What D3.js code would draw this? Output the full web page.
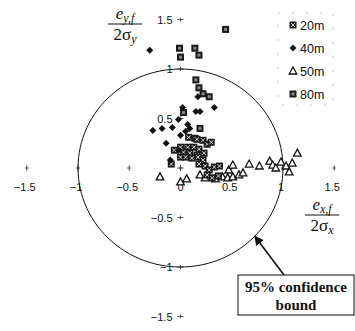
<!DOCTYPE html>
<html>
<head>
<meta charset="utf-8">
<script src="https://cdn.jsdelivr.net/npm/d3@7"></script>
<style>
  body { margin: 0; background: #fff; }
  svg { display: block; }
  .tick-label { font-family: "Liberation Sans", Arial, sans-serif; font-size: 11px; fill: #111; }
  .legend-text { font-family: "Liberation Sans", Arial, sans-serif; font-size: 12.5px; fill: #111; }
  .math { font-family: "Liberation Serif", "DejaVu Serif", serif; font-style: italic; fill: #111; }
  .note { font-family: "Liberation Serif", serif; font-weight: bold; font-size: 15px; fill: #111; }
</style>
</head>
<body>
<div id="chart"></div>
<script>
// tick values and labels
const xTicks = [-1.5, -1, -0.5, 0, 0.5, 1, 1.5];
const yTicks = [-1.5, -1, -0.5, 0, 0.5, 1, 1.5];
const fmt = v => (v < 0 ? '\u2212' : '') + Math.abs(v);

const seriesNames = ['20m', '40m', '50m', '80m'];

// normalised errors [x, y]
const pts20m = [
  [0.08, 0.31], [0.16, 0.29], [0.22, 0.28], [0.07, 0.21], [0.13, 0.21], [0.18, 0.19],
  [-0.06, 0.18], [0.03, 0.16], [0.09, 0.15], [0.16, 0.13], [0.23, 0.15], [0.00, 0.11],
  [0.05, 0.11], [0.11, 0.10], [0.17, 0.11], [0.22, 0.08], [0.18, 0.04], [0.24, 0.02],
  [0.28, -0.02], [0.33, 0.01], [0.38, 0.02], [0.26, -0.07], [0.31, -0.10], [0.37, -0.08],
  [-0.09, 0.04], [0.00, 0.21], [0.26, 0.24], [0.30, 0.26]
];
const pts40m = [
  [-0.30, 1.19], [-0.27, 0.38], [-0.18, 0.40], [-0.08, 0.41], [-0.02, 0.49], [0.02, 0.61],
  [0.33, 0.61], [-0.14, 0.25], [0.05, 0.37], [0.09, 0.40], [0.00, 0.33], [-0.10, 0.08],
  [0.15, 0.57], [0.19, 0.57], [0.17, 0.72], [-0.02, 0.18], [0.07, 0.44]
];
const pts50m = [
  [-0.20, -0.09], [0.00, -0.14], [0.06, -0.11], [0.19, -0.07], [0.24, -0.10], [0.34, -0.11],
  [0.41, -0.09], [0.46, -0.10], [0.47, -0.02], [0.51, 0.03], [0.51, -0.09], [0.57, -0.07],
  [0.61, -0.05], [0.67, 0.04], [0.77, 0.02], [0.87, 0.07], [0.90, 0.03], [0.93, 0.00],
  [0.98, 0.06], [1.03, 0.02], [1.09, 0.05], [1.06, -0.04], [1.14, 0.15]
];
const pts80m = [
  [0.44, 1.40], [-0.01, 1.21], [0.00, 1.12], [0.14, 1.21], [0.18, 1.14], [0.15, 0.89],
  [0.18, 0.81], [0.22, 0.75], [0.28, 0.72], [0.03, 0.56], [0.19, 0.40], [0.14, 0.30]
];

const confidenceRadius = 1;

const width = 355, height = 331;
const svg = d3.select('#chart').append('svg')
  .attr('width', width)
  .attr('height', height);

const x = d3.scaleLinear().domain([-1.5, 1.5]).range([26.75, 334.25]);
const y = d3.scaleLinear().domain([-1.5, 1.5]).range([316.5, 19.5]);

// tick crosses on both axes (no axis lines)
const tickG = svg.append('g').attr('stroke', '#333').attr('stroke-width', 0.8);
xTicks.forEach(t => {
  tickG.append('line').attr('x1', x(t)).attr('x2', x(t)).attr('y1', y(0) - 3).attr('y2', y(0) + 3);
  tickG.append('line').attr('x1', x(t) - 2).attr('x2', x(t) + 2).attr('y1', y(0)).attr('y2', y(0));
});
yTicks.forEach(t => {
  tickG.append('line').attr('x1', x(0) - 3).attr('x2', x(0) + 3).attr('y1', y(t)).attr('y2', y(t));
  tickG.append('line').attr('x1', x(0)).attr('x2', x(0)).attr('y1', y(t) - 2).attr('y2', y(t) + 2);
});

svg.append('g').selectAll('text').data(xTicks).join('text')
  .attr('class', 'tick-label')
  .attr('x', d => x(d) - (d === 0 ? 0 : 2))
  .attr('y', y(0) + 23)
  .attr('text-anchor', 'middle')
  .text(fmt);

svg.append('g').selectAll('text').data(yTicks.filter(d => d !== 0)).join('text')
  .attr('class', 'tick-label')
  .attr('x', x(0) - 8)
  .attr('y', d => y(d) + 4)
  .attr('text-anchor', 'end')
  .text(fmt);

// 95% confidence circle
const circleLine = d3.line().x(d => x(d[0])).y(d => y(d[1]));
svg.append('path')
  .datum(d3.range(0, 361, 3).map(a => [confidenceRadius * Math.cos(a * Math.PI / 180), confidenceRadius * Math.sin(a * Math.PI / 180)]))
  .attr('d', circleLine)
  .attr('fill', 'none')
  .attr('stroke', '#111')
  .attr('stroke-width', 1);

// markers
function drawSquare(g, px, py, kind) {
  g.append('rect').attr('x', px - 3.5).attr('y', py - 3.5).attr('width', 7).attr('height', 7)
    .attr('fill', '#1a1a1a');
  if (kind === 'x') {
    g.append('path').attr('d', `M${px - 2},${py - 2}L${px + 2},${py + 2}M${px + 2},${py - 2}L${px - 2},${py + 2}`)
      .attr('stroke', '#fff').attr('stroke-width', 0.8);
  } else {
    g.append('rect').attr('x', px - 1.5).attr('y', py - 1.5).attr('width', 3).attr('height', 3)
      .attr('fill', '#888');
  }
}
function drawDiamond(g, px, py) {
  g.append('path').attr('d', `M${px},${py - 3.5}L${px + 3.5},${py}L${px},${py + 3.5}L${px - 3.5},${py}Z`)
    .attr('fill', '#111');
}
function drawTriangle(g, px, py) {
  g.append('path').attr('d', `M${px},${py - 4}L${px + 3.8},${py + 3}L${px - 3.8},${py + 3}Z`)
    .attr('fill', '#fff').attr('stroke', '#111').attr('stroke-width', 1.3);
}

const markG = svg.append('g');
pts50m.forEach(d => drawTriangle(markG, x(d[0]), y(d[1])));
pts80m.forEach(d => drawSquare(markG, x(d[0]), y(d[1]), 'fill'));
pts20m.forEach(d => drawSquare(markG, x(d[0]), y(d[1]), 'x'));
pts40m.forEach(d => drawDiamond(markG, x(d[0]), y(d[1])));

// legend
const legend = svg.append('g');
legend.append('rect')
  .attr('x', 278).attr('y', 13).attr('width', 55).attr('height', 92)
  .attr('fill', 'none').attr('stroke', '#bbb').attr('stroke-width', 0.8)
  .attr('stroke-dasharray', '2,12');
seriesNames.forEach((name, i) => {
  const ly = 25 + i * 23;
  if (name === '20m') drawSquare(legend, 293, ly, 'x');
  if (name === '40m') drawDiamond(legend, 293, ly);
  if (name === '50m') drawTriangle(legend, 293, ly);
  if (name === '80m') drawSquare(legend, 293, ly, 'fill');
  legend.append('text').attr('class', 'legend-text')
    .attr('x', 300).attr('y', ly + 4.5).text(name);
});

// axis titles as fractions
function fraction(cx, cy, num, den) {
  const g = svg.append('g');
  const n = g.append('text').attr('class', 'math').attr('x', cx).attr('y', cy - 5)
    .attr('text-anchor', 'middle').attr('font-size', 17);
  n.append('tspan').text('e');
  n.append('tspan').attr('font-size', 12).attr('dy', 3).text(num);
  g.append('line').attr('x1', cx - 17).attr('x2', cx + 17).attr('y1', cy).attr('y2', cy)
    .attr('stroke', '#111').attr('stroke-width', 1);
  const dd = g.append('text').attr('class', 'math').attr('x', cx).attr('y', cy + 16)
    .attr('text-anchor', 'middle').attr('font-size', 17);
  dd.append('tspan').attr('font-style', 'normal').text('2\u03c3');
  dd.append('tspan').attr('font-size', 12).attr('dy', 3).text(den);
}
fraction(125, 24, 'y,f', 'y');
fraction(322, 215, 'x,f', 'x');

// annotation
const ann = svg.append('g');
ann.append('rect').attr('x', 238).attr('y', 275).attr('width', 116).attr('height', 40)
  .attr('fill', '#fff').attr('stroke', '#111').attr('stroke-width', 1);
ann.append('text').attr('class', 'note').attr('x', 296).attr('y', 292)
  .attr('text-anchor', 'middle').text('95% confidence');
ann.append('text').attr('class', 'note').attr('x', 296).attr('y', 310)
  .attr('text-anchor', 'middle').text('bound');

svg.append('defs').append('marker')
  .attr('id', 'head').attr('viewBox', '0 0 10 10').attr('refX', 9).attr('refY', 5)
  .attr('markerWidth', 6).attr('markerHeight', 6).attr('orient', 'auto')
  .append('path').attr('d', 'M0,0L10,5L0,10Z').attr('fill', '#111');
const ang = -0.76;
svg.append('line')
  .attr('x1', 284).attr('y1', 275)
  .attr('x2', x(Math.cos(ang))).attr('y2', y(Math.sin(ang)))
  .attr('stroke', '#111').attr('stroke-width', 1.6)
  .attr('marker-end', 'url(#head)');
</script>
</body>
</html>
